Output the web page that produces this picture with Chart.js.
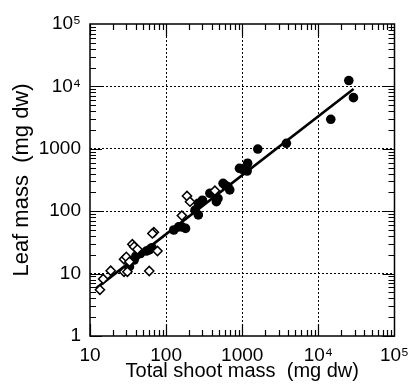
<!DOCTYPE html>
<html>
<head>
<meta charset="utf-8">
<script src="https://cdn.jsdelivr.net/npm/chart.js@4"></script>
<style>
  html, body { margin: 0; padding: 0; background: #fff; }
  #wrap { width: 417px; height: 389px; }
</style>
</head>
<body>
<div id="wrap"><canvas id="massChart" width="417" height="389"></canvas></div>
<script>
// open diamonds (smaller plants)
const openX = [13.5, 14.9, 18.7, 28, 31, 28, 30, 33, 36, 38, 42, 60, 69, 66, 77, 161, 188, 206, 437];
const openY = [5.5, 8.2, 11.1, 10.7, 10.7, 17, 18.5, 15.5, 29.5, 27, 24.5, 11.0, 46, 44, 23, 85, 175, 142, 213];

// filled circles (larger plants)
const filledX = [33, 38, 40, 46, 55, 60, 65, 126, 146, 161, 180, 240, 265, 265, 300, 376, 458, 480,
  560, 600, 685, 649, 920, 1000, 1160, 1177, 1600, 3800, 14550, 25100, 28900];
const filledY = [12.9, 16.5, 19, 21, 23, 24, 26, 50, 56, 56, 53, 104, 87, 134, 150, 194, 142, 160,
  280, 260, 219, 247, 487, 470, 440, 587, 990, 1225, 2970, 12400, 6600];

// fitted regression line end points
const fitX = [12, 29000];
const fitY = [5.8, 9080];

// axis ticks
const xTicks = [10, 100, 1000, 1e4, 1e5];
const xTickLabels = ['10', '100', '1000', '10\u2074', '10\u2075'];
const yTicks = [1, 10, 100, 1000, 1e4, 1e5];
const yTickLabels = ['1', '10', '100', '1000', '10\u2074', '10\u2075'];

const toPts = (xs, ys) => xs.map((x, i) => ({ x: x, y: ys[i] }));
const FONT = 'Liberation Sans, Arial, sans-serif';

/**
 * 画框线和朝内的刻度（主刻度长，次刻度短）
 */
const frameTicks = {
  id: 'frameTicks',
  afterDraw(chart) {
    const { ctx, chartArea: a, scales } = chart;
    const xs = scales.x, ys = scales.y;
    ctx.save();
    ctx.strokeStyle = '#000';
    ctx.lineWidth = 1.5;
    ctx.strokeRect(a.left, a.top, a.right - a.left, a.bottom - a.top);
    ctx.lineWidth = 1.2;
    ctx.beginPath();
    // x ticks, bottom and top
    for (let d = 10; d < 1e5; d *= 10) {
      for (let k = 1; k <= 9; k++) {
        const px = Math.round(xs.getPixelForValue(k * d)) + 0.5;
        const len = k === 1 ? 12 : 6;
        ctx.moveTo(px, a.bottom); ctx.lineTo(px, a.bottom - len);
        ctx.moveTo(px, a.top); ctx.lineTo(px, a.top + len);
      }
    }
    // y ticks, left and right
    for (let d = 1; d < 1e5; d *= 10) {
      for (let k = 1; k <= 9; k++) {
        const py = Math.round(ys.getPixelForValue(k * d)) + 0.5;
        const len = k === 1 ? 12 : 6;
        ctx.moveTo(a.left, py); ctx.lineTo(a.left + len, py);
        ctx.moveTo(a.right, py); ctx.lineTo(a.right - len, py);
      }
    }
    ctx.stroke();
    ctx.restore();
  }
};

const ctx = document.getElementById('massChart').getContext('2d');
new Chart(ctx, {
  type: 'scatter',
  data: {
    datasets: [
      {
        label: 'fit',
        data: toPts(fitX, fitY),
        showLine: true,
        borderColor: '#000',
        borderWidth: 2.6,
        pointRadius: 0,
        order: 1
      },
      {
        label: 'filled',
        data: toPts(filledX, filledY),
        pointStyle: 'circle',
        pointRadius: 4.8,
        backgroundColor: '#000',
        borderColor: '#000',
        borderWidth: 0,
        order: 2
      },
      {
        label: 'open',
        data: toPts(openX, openY),
        pointStyle: 'rectRot',
        pointRadius: 4.6,
        backgroundColor: '#fff',
        borderColor: '#000',
        borderWidth: 1.5,
        order: 0
      }
    ]
  },
  options: {
    responsive: false,
    animation: false,
    layout: { padding: { top: 24, right: 18, left: 0, bottom: 0 } },
    plugins: {
      legend: { display: false },
      tooltip: { enabled: false }
    },
    scales: {
      x: {
        type: 'logarithmic',
        min: 10,
        max: 1e5,
        afterBuildTicks: (s) => { s.ticks = xTicks.map(v => ({ value: v })); },
        afterFit: (s) => { s.height = 53; },
        border: { display: false, dash: [2, 2] },
        grid: {
          color: (c) => (c.tick && (c.tick.value === 10 || c.tick.value === 1e5)) ? 'rgba(0,0,0,0)' : '#000',
          lineWidth: 1,
          drawTicks: false
        },
        ticks: {
          color: '#000',
          padding: 8,
          maxRotation: 0,
          autoSkip: false,
          font: { family: FONT, size: 19 },
          callback: (v) => xTickLabels[xTicks.indexOf(v)]
        },
        title: {
          display: true,
          text: 'Total shoot mass  (mg dw)',
          color: '#000',
          font: { family: FONT, size: 20 },
          padding: { top: 0, bottom: 6 }
        }
      },
      y: {
        type: 'logarithmic',
        min: 1,
        max: 1e5,
        afterBuildTicks: (s) => { s.ticks = yTicks.map(v => ({ value: v })); },
        afterFit: (s) => { s.width = 90; },
        border: { display: false, dash: [2, 2] },
        grid: {
          color: (c) => (c.tick && (c.tick.value === 1 || c.tick.value === 1e5)) ? 'rgba(0,0,0,0)' : '#000',
          lineWidth: 1,
          drawTicks: false
        },
        ticks: {
          color: '#000',
          padding: 9,
          autoSkip: false,
          font: { family: FONT, size: 19 },
          callback: (v) => yTickLabels[yTicks.indexOf(v)]
        },
        title: {
          display: true,
          text: 'Leaf mass  (mg dw)',
          color: '#000',
          font: { family: FONT, size: 22 },
          padding: { top: 9, bottom: 0 }
        }
      }
    }
  },
  plugins: [frameTicks]
});
</script>
</body>
</html>
